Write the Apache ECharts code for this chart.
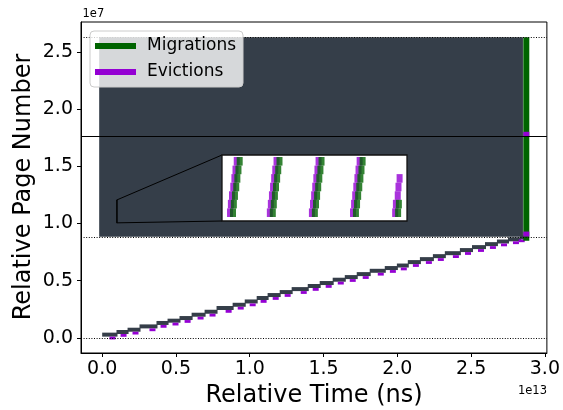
<!DOCTYPE html>
<html>
<head>
<meta charset="utf-8">
<script src="https://cdn.jsdelivr.net/npm/echarts@6/dist/echarts.min.js"></script>
<style>
  html, body { margin: 0; padding: 0; background: #fff; }
  #chart { width: 563px; height: 410px; }
</style>
</head>
<body>
<div id="chart"></div>
<script>
// Time values are in units of 1e13 ns, page numbers in units of 1e7.
const xTicksE13 = [0, 0.5, 1.0, 1.5, 2.0, 2.5, 3.0];
const yTicksE7 = [0, 0.5, 1.0, 1.5, 2.0, 2.5];

// Step boundaries of the early migration/eviction staircase (time) and step levels (page)
const stepTimesE13 = [0.000, 0.097, 0.172, 0.253, 0.368, 0.443, 0.524, 0.606, 0.694, 0.775,
  0.884, 0.966, 1.047, 1.121, 1.203, 1.284, 1.393, 1.474, 1.562, 1.644,
  1.725, 1.813, 1.915, 1.997, 2.071, 2.153, 2.241, 2.322, 2.424, 2.506,
  2.594, 2.675, 2.750, 2.831, 2.870];
const stepPagesE7 = [0.029, 0.052, 0.072, 0.101, 0.131, 0.151, 0.174, 0.203, 0.229, 0.262,
  0.290, 0.319, 0.349, 0.375, 0.401, 0.427, 0.454, 0.480, 0.509, 0.532,
  0.558, 0.587, 0.611, 0.633, 0.663, 0.689, 0.715, 0.741, 0.768, 0.794,
  0.820, 0.843, 0.862, 0.879];

// Dense access block: [tStart, tEnd, pageLow, pageHigh]
const denseBlock = [0.000, 2.831, 0.884, 2.628];

// Late burst of migrations at a single time: [time, pageLow, pageHigh]
const lateMigration = [2.874, 0.849, 2.628];
// Evictions within that burst: [time, page]
const lateEvictions = [[2.874, 1.780], [2.874, 0.908]];

// Region boundaries (page numbers) drawn as reference lines
const boundaryPagesE7 = [0, 0.884, 1.765, 2.628];
const boundaryStyles = ['dotted', 'dotted', 'solid', 'dotted'];

// Region shown magnified in the inset: [t0, t1, p0, p1]
const zoomBox = [0.099, 0.101, 1.006, 1.206];

// Magnified inset (relative units): migration and eviction samples
const insetMigT = [2.97, 3.20, 3.50, 3.85, 4.15, 4.45, 4.78,
  13.73, 14.00, 14.30, 14.60, 14.90, 15.20, 15.54,
  25.10, 25.40, 25.70, 26.00, 26.30, 26.60, 26.90,
  36.20, 36.50, 36.80, 37.10, 37.40, 37.70, 38.00,
  47.60, 47.80];
const insetMigP = [2.77, 5.63, 8.47, 11.33, 14.20, 17.03, 19.90,
  2.77, 5.63, 8.47, 11.33, 14.20, 17.03, 19.90,
  2.77, 5.63, 8.47, 11.33, 14.20, 17.03, 19.90,
  2.77, 5.63, 8.47, 11.33, 14.20, 17.03, 19.90,
  2.77, 5.63];
const insetEvT = [2.17, 2.40, 2.70, 3.05, 3.35, 3.65, 3.98,
  12.93, 13.20, 13.50, 13.80, 14.10, 14.40, 14.74,
  24.30, 24.60, 24.90, 25.20, 25.50, 25.80, 26.10,
  35.40, 35.70, 36.00, 36.30, 36.60, 36.90, 37.20,
  46.80, 47.00, 47.50, 47.70, 48.00];
const insetEvP = [2.77, 5.63, 8.47, 11.33, 14.20, 17.03, 19.90,
  2.77, 5.63, 8.47, 11.33, 14.20, 17.03, 19.90,
  2.77, 5.63, 8.47, 11.33, 14.20, 17.03, 19.90,
  2.77, 5.63, 8.47, 11.33, 14.20, 17.03, 19.90,
  2.77, 5.63, 8.47, 11.33, 14.20];

const FONT = 'DejaVu Sans';
const DARK = '#353e49';
const GREEN = '#006400';
const PURPLE = '#9400d3';

const stepRows = stepPagesE7.map((p, i) => [stepTimesE13[i], stepTimesE13[i + 1], p]);
const zip = (a, b) => a.map((v, i) => [v, b[i]]);

const chart = echarts.init(document.getElementById('chart'), null, { renderer: 'canvas' });

const mainAxisStyle = {
  axisLine: { show: true, onZero: false, lineStyle: { color: '#000', width: 1 } },
  splitLine: { show: false },
  axisLabel: { color: '#000', fontSize: 19, fontFamily: FONT, formatter: v => v.toFixed(1) }
};

const option = {
  animation: false,
  backgroundColor: '#fff',
  grid: [
    { left: 81, top: 22, width: 466, height: 331, show: true, backgroundColor: 'transparent',
      borderColor: '#000', borderWidth: 1, z: 0 },
    { left: 222, top: 155, width: 185, height: 66, show: true, backgroundColor: '#fff',
      borderColor: '#111', borderWidth: 1.3, z: 6 }
  ],
  xAxis: [
    Object.assign({}, mainAxisStyle, {
      type: 'value', gridIndex: 0, min: -0.1435, max: 3.0135,
      axisTick: { show: true, inside: false, length: 4, customValues: xTicksE13, lineStyle: { color: '#000' } },
      axisLabel: Object.assign({}, mainAxisStyle.axisLabel, { customValues: xTicksE13, margin: 7 })
    }),
    { type: 'value', gridIndex: 1, min: 0, max: 50, show: false }
  ],
  yAxis: [
    Object.assign({}, mainAxisStyle, {
      type: 'value', gridIndex: 0, min: -0.1315, max: 2.7615,
      axisTick: { show: true, inside: false, length: 4, customValues: yTicksE7, lineStyle: { color: '#000' } },
      axisLabel: Object.assign({}, mainAxisStyle.axisLabel, { customValues: yTicksE7, margin: 8 })
    }),
    { type: 'value', gridIndex: 1, min: 0, max: 22, show: false }
  ],
  legend: {
    left: 90, top: 31, orient: 'vertical', selectedMode: false, z: 10,
    padding: [5, 7, 5, 5], itemWidth: 41, itemHeight: 6, itemGap: 6,
    backgroundColor: 'rgba(255,255,255,0.8)', borderColor: '#cccccc', borderWidth: 1, borderRadius: 4,
    textStyle: { fontSize: 17, fontFamily: FONT, color: '#000', padding: [0, 0, 0, 6], lineHeight: 20 },
    data: [
      { name: 'Migrations', icon: 'rect', itemStyle: { color: GREEN } },
      { name: 'Evictions', icon: 'rect', itemStyle: { color: PURPLE } }
    ]
  },
  series: [
    { // dense block of accesses
      type: 'custom', name: 'Accesses', z: 1, xAxisIndex: 0, yAxisIndex: 0,
      data: [denseBlock],
      renderItem: (params, api) => {
        const tl = api.coord([api.value(0), api.value(3)]);
        const br = api.coord([api.value(1), api.value(2)]);
        return { type: 'rect', shape: { x: tl[0] - 3, y: tl[1], width: br[0] - tl[0] + 6, height: br[1] - tl[1] },
          style: { fill: DARK } };
      }
    },
    { // staircase of accesses
      type: 'custom', name: 'Accesses', z: 1, xAxisIndex: 0, yAxisIndex: 0,
      data: stepRows,
      renderItem: (params, api) => {
        const a = api.coord([api.value(0), api.value(2)]);
        const b = api.coord([api.value(1), api.value(2)]);
        return { type: 'rect', shape: { x: a[0], y: a[1] - 2, width: b[0] - a[0] + 1, height: 4 },
          style: { fill: DARK } };
      }
    },
    { // evictions along the staircase
      type: 'custom', name: 'Evictions', z: 2, xAxisIndex: 0, yAxisIndex: 0,
      itemStyle: { color: PURPLE },
      data: stepRows,
      renderItem: (params, api) => {
        const b = api.coord([api.value(1), api.value(2)]);
        return { type: 'rect', shape: { x: b[0] - 7, y: b[1] + 2, width: 6, height: 2.8 },
          style: { fill: PURPLE } };
      }
    },
    { // late migration burst
      type: 'custom', name: 'Migrations', z: 2, xAxisIndex: 0, yAxisIndex: 0,
      itemStyle: { color: GREEN },
      data: [lateMigration],
      renderItem: (params, api) => {
        const top = api.coord([api.value(0), api.value(2)]);
        const bot = api.coord([api.value(0), api.value(1)]);
        return { type: 'rect', shape: { x: top[0] - 3, y: top[1], width: 6, height: bot[1] - top[1] },
          style: { fill: GREEN } };
      }
    },
    { // late evictions
      type: 'custom', name: 'Evictions', z: 3, xAxisIndex: 0, yAxisIndex: 0,
      itemStyle: { color: PURPLE },
      data: lateEvictions,
      renderItem: (params, api) => {
        const c = api.coord([api.value(0), api.value(1)]);
        return { type: 'rect', shape: { x: c[0] - 3, y: c[1] - 2.5, width: 6, height: 5 },
          style: { fill: PURPLE } };
      }
    },
    { // region boundaries
      type: 'line', name: 'bounds', z: 4, xAxisIndex: 0, yAxisIndex: 0, data: [],
      markLine: {
        silent: true, symbol: 'none', animation: false, label: { show: false },
        data: boundaryPagesE7.map((p, i) => ({
          yAxis: p,
          lineStyle: { color: '#000', width: 1, type: boundaryStyles[i] === 'dotted' ? [1, 1.6] : 'solid' }
        }))
      }
    },
    { // inset evictions
      type: 'scatter', name: 'Evictions', z: 7, xAxisIndex: 1, yAxisIndex: 1,
      symbol: 'rect', symbolSize: [6, 8.6], itemStyle: { color: PURPLE },
      data: zip(insetEvT, insetEvP)
    },
    { // inset migrations
      type: 'scatter', name: 'Migrations', z: 8, xAxisIndex: 1, yAxisIndex: 1,
      symbol: 'rect', symbolSize: [6, 8.6], itemStyle: { color: GREEN },
      data: zip(insetMigT, insetMigP)
    }
  ],
  graphic: [
    { id: 'exp-y', type: 'text', x: 82.5, y: 14.5, z: 10,
      style: { text: '1e7', fontSize: 11.5, fontFamily: FONT, fill: '#000', align: 'left', verticalAlign: 'middle' } },
    { id: 'exp-x', type: 'text', x: 547, y: 391, z: 10,
      style: { text: '1e13', fontSize: 11.5, fontFamily: FONT, fill: '#000', align: 'right', verticalAlign: 'middle' } },
    { id: 'title-x', type: 'text', x: 314, y: 396, z: 10,
      style: { text: 'Relative Time (ns)', fontSize: 24, fontFamily: FONT, fill: '#000', align: 'center', verticalAlign: 'middle' } },
    { id: 'title-y', type: 'text', x: 24, y: 187, z: 10, rotation: Math.PI / 2,
      style: { text: 'Relative Page Number', fontSize: 24, fontFamily: FONT, fill: '#000', align: 'center', verticalAlign: 'middle' } }
  ]
};

chart.setOption(option);

// Outline of the magnified region and its connectors to the inset
const mainPx = v => chart.convertToPixel({ xAxisIndex: 0, yAxisIndex: 0 }, v);
const insetPx = v => chart.convertToPixel({ xAxisIndex: 1, yAxisIndex: 1 }, v);
const boxTL = mainPx([zoomBox[0], zoomBox[3]]);
const boxBR = mainPx([zoomBox[1], zoomBox[2]]);
const insetTL = insetPx([0, 22]);
const insetBL = insetPx([0, 0]);
const edge = { stroke: '#000', lineWidth: 1, fill: null };
chart.setOption({
  graphic: [
    { id: 'zoom-box', type: 'rect', z: 5, shape: { x: boxTL[0], y: boxTL[1], width: boxBR[0] - boxTL[0], height: boxBR[1] - boxTL[1] }, style: edge },
    { id: 'link-top', type: 'line', z: 5, shape: { x1: boxTL[0], y1: boxTL[1], x2: insetTL[0], y2: insetTL[1] }, style: edge },
    { id: 'link-bottom', type: 'line', z: 5, shape: { x1: boxTL[0], y1: boxBR[1], x2: insetBL[0], y2: insetBL[1] }, style: edge }
  ]
});
</script>
</body>
</html>
